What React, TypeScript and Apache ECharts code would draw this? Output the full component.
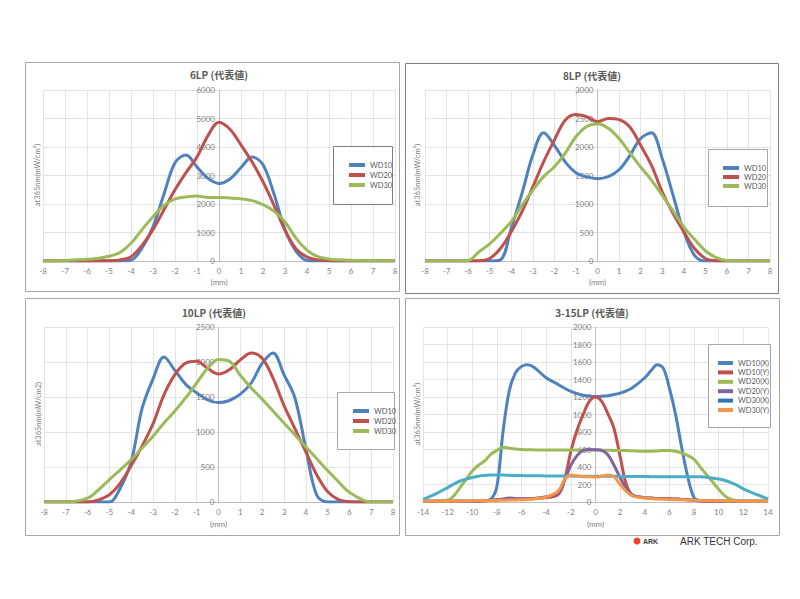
import React, { useEffect, useRef } from 'react';
import * as echarts from 'echarts';

// ---------- data ----------
const X_STD = [-8, -7, -6, -5.5, -5, -4.5, -4, -3.5, -3, -2.5, -2, -1.5, -1, -0.5, 0, 0.5, 1, 1.5, 2, 2.5, 3, 3.5, 4, 4.5, 5, 5.5, 6, 7, 8];

const LP6_WD10 = [0, 0, 0, 0, 0, 0, 30, 450, 1200, 2350, 3450, 3720, 3300, 2900, 2720, 2880, 3280, 3650, 3380, 2350, 1100, 350, 20, 0, 0, 0, 0, 0, 0];
const LP6_WD20 = [0, 0, 0, 5, 10, 40, 150, 550, 1100, 1800, 2500, 3100, 3650, 4400, 4870, 4620, 4070, 3480, 2780, 1960, 1080, 430, 140, 40, 10, 0, 0, 0, 0];
const LP6_WD30 = [0, 20, 60, 100, 165, 300, 620, 1100, 1550, 1950, 2180, 2250, 2280, 2230, 2230, 2210, 2180, 2120, 1980, 1750, 1370, 800, 380, 150, 70, 40, 25, 10, 0];

const LP8_WD10 = [0, 0, 0, 0, 0, 20, 575, 1190, 1860, 2250, 2030, 1740, 1550, 1475, 1445, 1480, 1600, 1850, 2150, 2250, 1800, 1160, 515, 100, 0, 0, 0, 0, 0];
const LP8_WD20 = [0, 0, 0, 5, 45, 220, 515, 865, 1300, 1740, 2120, 2470, 2570, 2530, 2445, 2500, 2480, 2350, 2030, 1680, 1215, 835, 515, 220, 45, 5, 0, 0, 0];
const LP8_WD30 = [0, 0, 10, 160, 300, 485, 690, 980, 1245, 1480, 1655, 1890, 2180, 2360, 2410, 2330, 2150, 1900, 1650, 1420, 1150, 880, 600, 380, 180, 60, 10, 0, 0];

const LP10_WD10 = [0, 0, 0, 0, 0, 200, 580, 1340, 1760, 2070, 1880, 1680, 1560, 1460, 1420, 1450, 1540, 1700, 1980, 2130, 1820, 1490, 770, 100, 0, 0, 0, 0, 0];
const LP10_WD20 = [0, 0, 0, 30, 105, 270, 520, 800, 1120, 1530, 1820, 1985, 2010, 1910, 1830, 1890, 2030, 2130, 2055, 1770, 1380, 1050, 720, 390, 150, 35, 5, 0, 0];
const LP10_WD30 = [0, 0, 55, 175, 320, 460, 605, 770, 940, 1130, 1300, 1490, 1700, 1910, 2035, 2010, 1810, 1630, 1470, 1300, 1130, 960, 790, 620, 450, 290, 140, 0, 0];

const X_15 = [-14, -13, -12, -11.5, -11, -10.5, -10, -9.5, -9, -8.5, -8, -7.5, -7, -6.5, -6, -5.5, -5, -4, -3, -2.5, -2, -1.5, -1, -0.5, 0, 0.5, 1, 1.5, 2, 2.5, 3, 4, 4.5, 5, 5.5, 6, 6.5, 7, 7.5, 8, 8.5, 9, 10, 10.5, 11, 11.5, 12, 13, 14];
const LP15_WD10X = [10, 10, 10, 10, 10, 10, 10, 10, 15, 30, 180, 810, 1270, 1475, 1550, 1570, 1540, 1420, 1340, 1300, 1265, 1240, 1220, 1210, 1205, 1208, 1215, 1228, 1245, 1270, 1305, 1420, 1500, 1570, 1530, 1300, 1000, 620, 280, 50, 15, 10, 10, 10, 10, 10, 10, 10, 10];
const LP15_WD10Y = [10, 10, 10, 10, 10, 10, 10, 10, 15, 20, 25, 30, 35, 35, 35, 35, 40, 50, 90, 260, 580, 820, 1000, 1150, 1200, 1150, 1010, 840, 520, 200, 80, 50, 45, 40, 40, 35, 35, 30, 25, 20, 15, 15, 10, 10, 10, 10, 10, 10, 10];
const LP15_WD20X = [10, 10, 20, 70, 165, 260, 355, 420, 470, 545, 590, 627, 615, 605, 600, 598, 596, 595, 595, 595, 595, 595, 595, 595, 595, 593, 592, 590, 590, 588, 585, 580, 580, 583, 588, 590, 580, 560, 530, 487, 400, 315, 145, 70, 30, 15, 10, 10, 10];
const LP15_WD20Y = [10, 10, 10, 10, 10, 10, 10, 10, 15, 20, 25, 35, 45, 40, 38, 38, 40, 60, 110, 250, 420, 530, 590, 600, 597, 590, 540, 420, 280, 150, 80, 50, 45, 40, 40, 38, 35, 30, 25, 20, 15, 15, 10, 10, 10, 10, 10, 10, 10];
const LP15_WD30X = [30, 90, 165, 205, 240, 260, 280, 295, 303, 308, 310, 308, 305, 303, 302, 300, 300, 298, 297, 296, 296, 295, 295, 295, 295, 294, 294, 293, 293, 292, 292, 291, 290, 290, 290, 290, 290, 290, 290, 290, 288, 282, 262, 245, 222, 190, 150, 90, 35];
const LP15_WD30Y = [10, 10, 10, 10, 10, 12, 12, 14, 15, 16, 18, 20, 22, 24, 26, 30, 35, 55, 130, 260, 310, 300, 290, 290, 285, 295, 310, 290, 200, 120, 70, 45, 40, 35, 32, 30, 28, 25, 22, 20, 18, 16, 14, 12, 12, 10, 10, 10, 10];

const TITLES = ['6LP (代表値)', '8LP (代表値)', '10LP (代表値)', '3-15LP (代表値)'];
const Y_NAMES = ['at365nm(mW/cm²)', 'at365nm(mW/cm²)', 'at365nm(mW/cm2)', 'at365nm(mW/cm²)'];
const X_NAME = '(mm)';
const NAMES_3 = ['WD10', 'WD20', 'WD30'];
const NAMES_6 = ['WD10(X)', 'WD10(Y)', 'WD20(X)', 'WD20(Y)', 'WD30(X)', 'WD30(Y)'];
const Y_MAX = [6000, 3000, 2500, 2000];
const Y_STEP = [1000, 500, 500, 200];
const X_RANGE = [[-8, 8, 1], [-8, 8, 1], [-8, 8, 1], [-14, 14, 2]];

const C_BLUE = '#4F81BD';
const C_RED = '#C0504D';
const C_GREEN = '#9BBB59';
const C_PURPLE = '#8064A2';
const C_CYAN = '#4BACC6';
const C_ORANGE = '#F79646';

const LABEL_FONT = 'Lato, "Liberation Sans", sans-serif';
const CJK_FONT = '"Noto Sans CJK JP", "Noto Sans", sans-serif';

export default function App() {
  const ref = useRef<HTMLDivElement>(null);

  useEffect(() => {
    if (!ref.current) return;
    const chart = echarts.init(ref.current, null, { renderer: 'svg' });

    const zip = (xs: number[], ys: number[]) => xs.map((x, i) => [x, ys[i]]);

    const grids = [
      { left: 43, top: 90, width: 352, height: 171 },
      { left: 425, top: 90, width: 345, height: 171 },
      { left: 44, top: 327, width: 349, height: 175 },
      { left: 423, top: 327, width: 345, height: 175 },
    ];

    const titleLayout = [
      { x: 219, y: 69 },
      { x: 592, y: 70 },
      { x: 214, y: 307 },
      { x: 592, y: 307 },
    ];

    const panels = [
      { x: 25.5, y: 62.5, w: 374, h: 229, c: '#a6a6a6' },
      { x: 405.5, y: 63.5, w: 373, h: 230, c: '#7f7f7f' },
      { x: 25.5, y: 298.5, w: 374, h: 237, c: '#a6a6a6' },
      { x: 405.5, y: 298.5, w: 374, h: 237, c: '#a6a6a6' },
    ];

    const legendBoxes = [
      { x: 333.5, y: 146.5, w: 59, h: 58, c: '#7f7f7f' },
      { x: 708.5, y: 149.5, w: 59, h: 57, c: '#a6a6a6' },
      { x: 337.5, y: 392.5, w: 57, h: 57, c: '#a6a6a6' },
      { x: 708.5, y: 344.5, w: 62, h: 83, c: '#a6a6a6' },
    ];

    const legendLayout = [
      { left: 349, top: 160, lh: 10, iw: 16 },
      { left: 723, top: 163.5, lh: 9, iw: 16 },
      { left: 353, top: 406, lh: 10, iw: 16 },
      { left: 718, top: 358.3, lh: 9.4, iw: 15 },
    ];

    const yNamePos = [
      { x: 37, y: 175 },
      { x: 417, y: 175 },
      { x: 38, y: 414 },
      { x: 417, y: 414 },
    ];

    const xAxes = X_RANGE.map((r, i) => ({
      type: 'value',
      gridIndex: i,
      min: r[0],
      max: r[1],
      interval: r[2],
      name: X_NAME,
      nameLocation: 'middle',
      nameGap: i < 2 ? 17 : 18,
      nameTextStyle: { color: '#7f7f7f', fontSize: 8, fontFamily: LABEL_FONT },
      axisLine: { show: true, onZero: false, lineStyle: { color: '#bfbfbf', width: 1 } },
      axisTick: { show: false },
      axisLabel: { color: '#7f7f7f', fontSize: 8, margin: 6, fontFamily: LABEL_FONT },
      splitLine: { show: true, lineStyle: { color: '#e3e3e3', width: 1 } },
    }));

    // y axis sits at x = 0 of the horizontal scale (Excel style)
    const yAxes = Y_MAX.map((m, i) => {
      const g = grids[i];
      const r = X_RANGE[i];
      const zeroPx = (g.width * (0 - r[0])) / (r[1] - r[0]);
      return {
        type: 'value',
        gridIndex: i,
        position: 'left',
        offset: -zeroPx,
        min: 0,
        max: m,
        interval: Y_STEP[i],
        axisLine: { show: true, onZero: false, lineStyle: { color: '#bfbfbf', width: 1 } },
        axisTick: { show: false },
        axisLabel: {
          color: '#7f7f7f',
          fontSize: 8,
          margin: 4,
          fontFamily: LABEL_FONT,
          formatter: (v: number) => String(v),
        },
        splitLine: { show: true, lineStyle: { color: '#e3e3e3', width: 1 } },
      };
    });

    const mk = (name: string, idx: number, xs: number[], ys: number[], color: string) => ({
      name,
      type: 'line',
      xAxisIndex: idx,
      yAxisIndex: idx,
      data: zip(xs, ys),
      smooth: 0.35,
      symbol: 'none',
      showSymbol: false,
      lineStyle: { width: 3, color },
      itemStyle: { color },
    });

    const series = [
      mk('WD10', 0, X_STD, LP6_WD10, C_BLUE),
      mk('WD20', 0, X_STD, LP6_WD20, C_RED),
      mk('WD30', 0, X_STD, LP6_WD30, C_GREEN),
      mk('WD10', 1, X_STD, LP8_WD10, C_BLUE),
      mk('WD20', 1, X_STD, LP8_WD20, C_RED),
      mk('WD30', 1, X_STD, LP8_WD30, C_GREEN),
      mk('WD10', 2, X_STD, LP10_WD10, C_BLUE),
      mk('WD20', 2, X_STD, LP10_WD20, C_RED),
      mk('WD30', 2, X_STD, LP10_WD30, C_GREEN),
      mk('WD10(X)', 3, X_15, LP15_WD10X, C_BLUE),
      mk('WD10(Y)', 3, X_15, LP15_WD10Y, C_RED),
      mk('WD20(X)', 3, X_15, LP15_WD20X, C_GREEN),
      mk('WD20(Y)', 3, X_15, LP15_WD20Y, C_PURPLE),
      mk('WD30(X)', 3, X_15, LP15_WD30X, C_CYAN),
      mk('WD30(Y)', 3, X_15, LP15_WD30Y, C_ORANGE),
    ];

    const legends = legendLayout.map((l, i) => ({
      show: true,
      orient: 'vertical',
      left: l.left,
      top: l.top,
      padding: 0,
      itemGap: 0,
      itemWidth: l.iw,
      itemHeight: 4,
      icon: 'rect',
      selectedMode: false,
      z: 5,
      textStyle: { fontSize: 7.5, color: '#595959', lineHeight: l.lh, fontFamily: LABEL_FONT },
      data:
        i < 3
          ? NAMES_3
          : NAMES_6.map((n) => (n === 'WD30(X)' ? { name: n, itemStyle: { color: '#2E75B6' } } : n)),
    }));

    const titles = TITLES.map((t, i) => ({
      text: t,
      left: titleLayout[i].x,
      top: titleLayout[i].y,
      textAlign: 'center',
      padding: 0,
      textStyle: { fontSize: 10, fontWeight: 'bold', color: '#595959', fontFamily: CJK_FONT },
    }));

    const graphics: any[] = [];
    panels.forEach((p) => {
      graphics.push({
        type: 'rect',
        z: -10,
        shape: { x: p.x, y: p.y, width: p.w, height: p.h },
        style: { fill: 'none', stroke: p.c, lineWidth: 1 },
        silent: true,
      });
    });
    legendBoxes.forEach((b) => {
      graphics.push({
        type: 'rect',
        z: 3,
        shape: { x: b.x, y: b.y, width: b.w, height: b.h },
        style: { fill: '#ffffff', stroke: b.c, lineWidth: 1 },
        silent: true,
      });
    });
    yNamePos.forEach((p, i) => {
      graphics.push({
        type: 'text',
        x: p.x,
        y: p.y,
        rotation: Math.PI / 2,
        style: {
          text: Y_NAMES[i],
          align: 'center',
          verticalAlign: 'middle',
          fontSize: 7.5,
          fill: '#7f7f7f',
          fontFamily: LABEL_FONT,
        },
        silent: true,
      });
    });
    // logo
    graphics.push({
      type: 'circle',
      shape: { cx: 637, cy: 541, r: 3.5 },
      style: { fill: '#e8412c' },
      silent: true,
    });
    graphics.push({
      type: 'text',
      x: 643,
      y: 541,
      style: {
        text: 'ARK',
        fontSize: 7,
        fontWeight: 'bold',
        fill: '#3a3a3a',
        verticalAlign: 'middle',
        fontFamily: '"Liberation Sans", sans-serif',
      },
      silent: true,
    });
    graphics.push({
      type: 'text',
      x: 680,
      y: 541,
      style: {
        text: 'ARK TECH Corp.',
        fontSize: 10,
        fill: '#333333',
        verticalAlign: 'middle',
        fontFamily: '"Liberation Sans", sans-serif',
      },
      silent: true,
    });

    chart.setOption({
      animation: false,
      backgroundColor: '#ffffff',
      title: titles,
      grid: grids,
      xAxis: xAxes,
      yAxis: yAxes,
      legend: legends,
      series,
      graphic: { elements: graphics },
    });

    return () => chart.dispose();
  }, []);

  return (
    <div
      ref={ref}
      style={{ position: 'fixed', left: 0, top: 0, width: 800, height: 599, background: '#ffffff' }}
    />
  );
}
